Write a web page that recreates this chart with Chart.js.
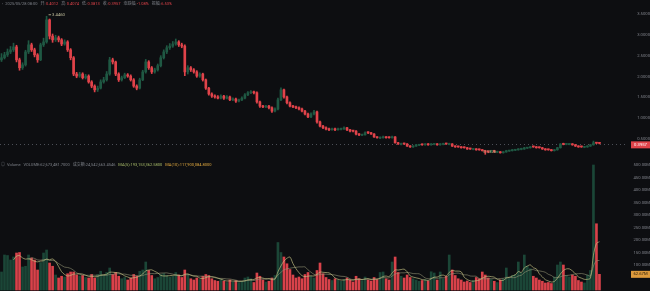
<!DOCTYPE html>
<html>
<head>
<meta charset="utf-8">
<script src="https://cdn.jsdelivr.net/npm/chart.js@4.4.1/dist/chart.umd.min.js"></script>
<style>
  html, body { margin: 0; padding: 0; background: #0d0e11; overflow: hidden; }
  #wrap { position: relative; width: 650px; height: 291px; }
  canvas { position: absolute; left: 0; }
  #price { top: 0; }
  #vol { top: 157px; }
</style>
</head>
<body>
<div id="wrap">
  <canvas id="price" width="650" height="157"></canvas>
  <canvas id="vol" width="650" height="134"></canvas>
</div>
<script>
// candles
const opens = [
  2.40,2.45,2.52,2.59,2.64,2.71,2.40,2.21,2.28,2.59,
  2.76,2.64,2.52,2.40,2.76,2.83,3.36,2.97,2.88,2.93,
  2.88,2.78,2.83,2.64,2.45,2.06,2.01,2.06,1.97,2.01,
  1.87,1.77,1.68,1.72,1.87,1.92,2.06,2.40,2.35,2.06,
  1.92,1.97,2.04,2.01,1.92,1.77,1.72,1.92,2.11,2.35,
  2.21,2.11,2.16,2.26,2.45,2.59,2.69,2.73,2.78,2.83,
  2.76,2.73,2.11,2.21,2.16,2.11,2.01,2.06,1.92,1.72,
  1.58,1.53,1.51,1.48,1.53,1.48,1.51,1.44,1.46,1.41,
  1.44,1.48,1.56,1.61,1.63,1.61,1.39,1.29,1.27,1.29,
  1.25,1.17,1.22,1.44,1.68,1.51,1.37,1.29,1.27,1.25,
  1.22,1.17,1.10,1.03,1.10,1.15,0.91,0.81,0.77,0.74,
  0.72,0.74,0.72,0.73,0.74,0.77,0.72,0.70,0.69,0.62,
  0.59,0.60,0.66,0.65,0.62,0.55,0.52,0.53,0.55,0.54,
  0.53,0.55,0.41,0.37,0.39,0.38,0.33,0.31,0.33,0.35,
  0.37,0.36,0.38,0.36,0.37,0.38,0.36,0.37,0.39,0.37,
  0.38,0.33,0.32,0.31,0.30,0.29,0.27,0.25,0.26,0.25,
  0.24,0.22,0.20,0.19,0.22,0.18,0.19,0.17,0.19,0.21,
  0.22,0.23,0.24,0.25,0.26,0.28,0.29,0.32,0.31,0.30,
  0.29,0.26,0.25,0.24,0.22,0.24,0.29,0.38,0.37,0.37,
  0.38,0.36,0.33,0.32,0.30,0.31,0.33,0.36,0.41,0.4012
];
const highs = [
  2.55,2.58,2.66,2.72,2.80,2.75,2.44,2.33,2.63,2.86,
  2.80,2.68,2.55,2.80,2.92,3.446,3.38,3.02,2.99,2.97,
  2.91,2.88,2.86,2.67,2.48,2.10,2.10,2.09,2.05,2.04,
  1.90,1.80,1.77,1.92,1.98,2.12,2.46,2.44,2.37,2.09,
  2.01,2.08,2.07,2.04,1.95,1.80,1.96,2.15,2.41,2.38,
  2.24,2.20,2.30,2.50,2.64,2.74,2.79,2.84,2.90,2.86,
  2.80,2.76,2.26,2.24,2.19,2.14,2.09,2.08,1.94,1.74,
  1.61,1.56,1.54,1.56,1.55,1.54,1.53,1.49,1.48,1.46,
  1.51,1.59,1.64,1.66,1.65,1.63,1.41,1.31,1.31,1.31,
  1.27,1.25,1.48,1.73,1.70,1.53,1.39,1.31,1.29,1.27,
  1.24,1.19,1.12,1.13,1.19,1.17,0.93,0.83,0.79,0.76,
  0.76,0.76,0.76,0.76,0.79,0.78,0.73,0.71,0.70,0.63,
  0.62,0.67,0.67,0.66,0.63,0.56,0.55,0.57,0.56,0.55,
  0.57,0.56,0.42,0.40,0.40,0.39,0.34,0.34,0.37,0.37,
  0.38,0.39,0.39,0.39,0.39,0.39,0.39,0.40,0.40,0.40,
  0.39,0.34,0.33,0.32,0.31,0.30,0.28,0.27,0.27,0.26,
  0.25,0.23,0.21,0.23,0.23,0.21,0.20,0.20,0.23,0.23,
  0.25,0.25,0.27,0.28,0.30,0.30,0.32,0.33,0.32,0.31,
  0.30,0.27,0.26,0.25,0.25,0.30,0.39,0.40,0.39,0.39,
  0.39,0.37,0.34,0.33,0.32,0.34,0.37,0.45,0.42,0.4074
];
const lows = [
  2.36,2.42,2.48,2.55,2.60,2.35,2.15,2.17,2.25,2.55,
  2.60,2.47,2.34,2.38,2.72,2.80,2.90,2.82,2.84,2.83,
  2.74,2.75,2.60,2.40,2.02,1.97,1.98,1.94,1.94,1.84,
  1.73,1.63,1.64,1.70,1.84,1.89,2.03,2.30,2.02,1.88,
  1.89,1.95,1.98,1.89,1.74,1.68,1.70,1.90,2.08,2.17,
  2.07,2.08,2.13,2.23,2.42,2.55,2.65,2.70,2.75,2.72,
  2.69,2.02,2.06,2.12,2.08,1.98,1.98,1.89,1.69,1.55,
  1.50,1.48,1.46,1.46,1.45,1.46,1.42,1.42,1.38,1.39,
  1.42,1.46,1.54,1.59,1.58,1.36,1.26,1.25,1.25,1.22,
  1.14,1.15,1.20,1.42,1.48,1.34,1.27,1.25,1.23,1.20,
  1.15,1.08,1.01,1.01,1.08,0.88,0.79,0.75,0.72,0.70,
  0.71,0.70,0.71,0.72,0.73,0.70,0.67,0.67,0.60,0.58,
  0.58,0.59,0.63,0.61,0.54,0.52,0.51,0.52,0.52,0.52,
  0.52,0.40,0.37,0.36,0.37,0.32,0.30,0.30,0.32,0.34,
  0.35,0.35,0.35,0.35,0.36,0.35,0.35,0.36,0.37,0.36,
  0.32,0.30,0.30,0.28,0.28,0.25,0.25,0.24,0.23,0.23,
  0.21,0.1326,0.17,0.18,0.18,0.17,0.16,0.16,0.18,0.20,
  0.21,0.22,0.23,0.24,0.25,0.27,0.28,0.30,0.28,0.28,
  0.25,0.23,0.23,0.21,0.21,0.23,0.28,0.36,0.36,0.36,
  0.35,0.32,0.30,0.30,0.29,0.30,0.32,0.35,0.39,0.3813
];
const closes = [
  2.45,2.52,2.59,2.64,2.71,2.40,2.21,2.28,2.59,2.76,
  2.64,2.52,2.40,2.76,2.83,3.36,2.97,2.88,2.93,2.88,
  2.78,2.83,2.64,2.45,2.06,2.01,2.06,1.97,2.01,1.87,
  1.77,1.68,1.72,1.87,1.92,2.06,2.40,2.35,2.06,1.92,
  1.97,2.04,2.01,1.92,1.77,1.72,1.92,2.11,2.35,2.21,
  2.11,2.16,2.26,2.45,2.59,2.69,2.73,2.78,2.83,2.76,
  2.73,2.11,2.21,2.16,2.11,2.01,2.06,1.92,1.72,1.58,
  1.53,1.51,1.48,1.53,1.48,1.51,1.44,1.46,1.41,1.44,
  1.48,1.56,1.61,1.63,1.61,1.39,1.29,1.27,1.29,1.25,
  1.17,1.22,1.44,1.68,1.51,1.37,1.29,1.27,1.25,1.22,
  1.17,1.10,1.03,1.10,1.15,0.91,0.81,0.77,0.74,0.72,
  0.74,0.72,0.74,0.74,0.77,0.72,0.69,0.69,0.62,0.60,
  0.60,0.65,0.65,0.62,0.55,0.53,0.53,0.55,0.53,0.53,
  0.55,0.41,0.38,0.38,0.38,0.33,0.31,0.33,0.36,0.36,
  0.36,0.38,0.36,0.38,0.38,0.36,0.38,0.38,0.38,0.38,
  0.33,0.31,0.31,0.29,0.29,0.26,0.26,0.26,0.24,0.24,
  0.22,0.19,0.19,0.22,0.19,0.19,0.17,0.19,0.22,0.22,
  0.24,0.24,0.26,0.26,0.29,0.29,0.31,0.31,0.29,0.29,
  0.26,0.24,0.24,0.22,0.24,0.29,0.38,0.37,0.38,0.38,
  0.36,0.33,0.31,0.31,0.31,0.33,0.36,0.41,0.40,0.3957
];
// volume in millions
const volumes = [
  72,140,138,120,132,148,150,92,95,140,
  128,120,80,110,148,160,108,95,60,48,
  55,52,65,72,72,60,56,58,50,48,
  62,48,62,75,60,70,88,62,70,55,
  45,50,40,48,62,55,75,80,112,78,
  58,45,50,62,66,58,52,55,70,60,
  50,80,62,45,40,48,42,55,62,58,
  45,38,35,42,35,30,40,32,38,30,
  35,48,52,45,30,68,55,40,32,35,
  48,58,190,150,132,105,82,60,48,52,
  45,62,70,55,48,78,108,65,50,42,
  38,45,40,35,42,48,40,32,55,45,
  38,52,40,36,50,42,70,72,45,40,
  112,132,70,55,48,60,50,45,40,35,
  38,42,36,73,68,40,72,45,55,140,
  80,58,45,40,32,36,30,38,50,45,
  72,60,48,42,35,30,40,45,88,50,
  58,62,112,70,140,95,85,55,48,40,
  35,28,30,26,52,100,112,100,58,52,
  60,55,38,32,28.2340351,60,78.0933312,500,265,62.6734817
];
const priceTicks = [0.5, 1, 1.5, 2, 2.5, 3, 3.5];
const volumeTicks = [100, 150, 200, 250, 300, 350, 400, 450, 500];
const emptySlots = 9;
const headerTime = '2025/05/28 08:00';
const turnoverText = '24,542,663.4546';

const UP = '#1f5843', DOWN = '#e0434a', VUP = '#1b4637', VDOWN = '#d8424a';
const AXIS = '#80838b', TEXT = '#7d8088', MARK = '#c4c19e';
const MA5C = '#a9bd6a', MA10C = '#e0a83e';
const MA5LINE = 'rgba(196,192,130,0.85)', MA10LINE = 'rgba(150,150,118,0.75)';
const FONT = '"Roboto", "Noto Sans CJK SC", sans-serif';

const n = opens.length;
const labels = [];
for (let i = 0; i < n + emptySlots; i++) labels.push(i);
const isUp = closes.map((c, i) => c >= opens[i]);

function movingAvg(arr, p) {
  return arr.map((_, i) => {
    if (i < p - 1) return null;
    let s = 0;
    for (let k = i - p + 1; k <= i; k++) s += arr[k];
    return s / p;
  });
}
const ma5 = movingAvg(volumes, 5);
const ma10 = movingAvg(volumes, 10);

function segments(ctx, x, y, segs) {
  ctx.textBaseline = 'middle';
  ctx.textAlign = 'left';
  segs.forEach(([t, c, gap]) => {
    ctx.fillStyle = c;
    ctx.fillText(t, x, y);
    x += ctx.measureText(t).width + (gap === undefined ? 1 : gap);
  });
}
const big = v => (v * 1e6).toLocaleString('en-US', { minimumFractionDigits: 4, maximumFractionDigits: 4 });

const pricePlugin = {
  id: 'priceExtras',
  beforeDatasetsDraw(chart) {
    const { ctx, chartArea, scales: { y } } = chart;
    const py = Math.round(y.getPixelForValue(closes[n - 1])) + 1.5;
    ctx.save();
    ctx.strokeStyle = '#4c4f57';
    ctx.lineWidth = 1;
    ctx.setLineDash([1, 3]);
    ctx.beginPath();
    ctx.moveTo(chartArea.left, py);
    ctx.lineTo(chartArea.right, py);
    ctx.stroke();
    ctx.restore();
  },
  afterDraw(chart) {
    const { ctx, chartArea, scales: { x, y } } = chart;
    ctx.save();
    ctx.font = '4px ' + FONT;
    const last = n - 1, prev = closes[last - 1];
    const chg = (closes[last] - prev) / prev * 100;
    const amp = (highs[last] - lows[last]) / prev * 100;
    const vc = isUp[last] ? UP : DOWN;
    segments(ctx, 2, 3.5, [
      ['›', TEXT, 2], [headerTime, TEXT, 3],
      ['开:', TEXT, 0.5], [opens[last].toFixed(4), vc, 3],
      ['高:', TEXT, 0.5], [highs[last].toFixed(4), vc, 3],
      ['低:', TEXT, 0.5], [lows[last].toFixed(4), vc, 3],
      ['收:', TEXT, 0.5], [closes[last].toFixed(4), vc, 3],
      ['涨跌幅:', TEXT, 0.5], [chg.toFixed(2) + '%', vc, 3],
      ['振幅:', TEXT, 0.5], [amp.toFixed(2) + '%', vc, 3]
    ]);

    // highest / lowest markers
    const iMax = highs.indexOf(Math.max(...highs));
    const iMin = lows.indexOf(Math.min(...lows));
    const xm = x.getPixelForValue(iMax), ym = y.getPixelForValue(highs[iMax]) - 1.5;
    ctx.strokeStyle = MARK; ctx.lineWidth = 0.8;
    ctx.beginPath(); ctx.moveTo(xm + 2, ym); ctx.lineTo(xm + 4.5, ym); ctx.stroke();
    ctx.font = '4.2px ' + FONT;
    segments(ctx, xm + 5.5, ym, [[highs[iMax].toFixed(4), MARK]]);
    const xn = x.getPixelForValue(iMin), yn = y.getPixelForValue(lows[iMin]) - 2;
    segments(ctx, xn - 2, yn, [[lows[iMin].toFixed(4), '#b3b07e']]);

    // last price box
    const py = y.getPixelForValue(closes[last]) + 1.5;
    ctx.fillStyle = vc;
    ctx.fillRect(chartArea.right + 3, py - 3.5, 650 - chartArea.right - 3, 7);
    ctx.fillStyle = '#ffffff';
    ctx.textAlign = 'center';
    ctx.textBaseline = 'middle';
    ctx.fillText(closes[last].toFixed(4), (chartArea.right + 653) / 2, py);
    ctx.restore();
  }
};

const volumePlugin = {
  id: 'volumeExtras',
  afterDraw(chart) {
    const { ctx, chartArea, scales: { y } } = chart;
    const last = n - 1;
    ctx.save();
    ctx.font = '4px ' + FONT;
    segments(ctx, 1, 8, [
      ['◎', TEXT, 2], ['Volume', TEXT, 3],
      ['VOLUME:' + big(volumes[last]), TEXT, 3],
      ['成交额:' + turnoverText, TEXT, 3],
      ['MA(5):' + big(ma5[last]), MA5C, 3],
      ['MA(10):' + big(ma10[last]), MA10C, 3]
    ]);
    const py = y.getPixelForValue(volumes[last]);
    ctx.fillStyle = '#dd9a3c';
    ctx.fillRect(chartArea.right + 3, py - 3.5, 650 - chartArea.right - 3, 7);
    ctx.fillStyle = '#2a1d08';
    ctx.textAlign = 'center';
    ctx.textBaseline = 'middle';
    ctx.font = '4.2px ' + FONT;
    ctx.fillText(volumes[last].toFixed(2) + 'M', (chartArea.right + 653) / 2, py);
    ctx.restore();
  }
};

const yAxisBase = {
  position: 'right',
  grid: { display: false, drawTicks: false },
  border: { display: false },
  afterFit: s => { s.width = 22; s.paddingTop = 0; s.paddingBottom = 0; }
};

new Chart(document.getElementById('price'), {
  type: 'bar',
  data: {
    labels: labels,
    datasets: [
      {
        data: opens.map((o, i) => [o, closes[i]]),
        backgroundColor: isUp.map(u => u ? UP : DOWN),
        barThickness: 2, grouped: false, minBarLength: 1, borderWidth: 0
      },
      {
        data: lows.map((l, i) => [l, highs[i]]),
        backgroundColor: isUp.map(u => u ? UP : DOWN),
        barThickness: 1, grouped: false, minBarLength: 1, borderWidth: 0
      }
    ]
  },
  options: {
    responsive: false,
    animation: false,
    layout: { padding: 0 },
    plugins: { legend: { display: false }, tooltip: { enabled: false } },
    scales: {
      x: { display: false },
      y: Object.assign({}, yAxisBase, {
        min: 0.068, max: 3.836,
        afterBuildTicks: s => { s.ticks = priceTicks.map(v => ({ value: v })); },
        ticks: {
          color: AXIS, padding: 7, crossAlign: 'far',
          font: { size: 4.2, family: FONT },
          callback: v => Number(v).toFixed(4)
        }
      })
    }
  },
  plugins: [pricePlugin]
});

new Chart(document.getElementById('vol'), {
  type: 'bar',
  data: {
    labels: labels,
    datasets: [
      { type: 'line', data: ma5, borderColor: MA5LINE, borderWidth: 0.8, pointRadius: 0, tension: 0.3 },
      { type: 'line', data: ma10, borderColor: MA10LINE, borderWidth: 0.8, pointRadius: 0, tension: 0.3 },
      {
        data: volumes,
        backgroundColor: isUp.map(u => u ? VUP : VDOWN),
        barThickness: 2, grouped: false, borderWidth: 0
      }
    ]
  },
  options: {
    responsive: false,
    animation: false,
    layout: { padding: 0 },
    plugins: { legend: { display: false }, tooltip: { enabled: false } },
    scales: {
      x: { display: false },
      y: Object.assign({}, yAxisBase, {
        min: -4, max: 532,
        afterBuildTicks: s => { s.ticks = volumeTicks.map(v => ({ value: v })); },
        ticks: {
          color: AXIS, padding: 4, crossAlign: 'far',
          font: { size: 4.2, family: FONT },
          callback: v => Number(v).toFixed(2) + 'M'
        }
      })
    }
  },
  plugins: [volumePlugin]
});
</script>
</body>
</html>
